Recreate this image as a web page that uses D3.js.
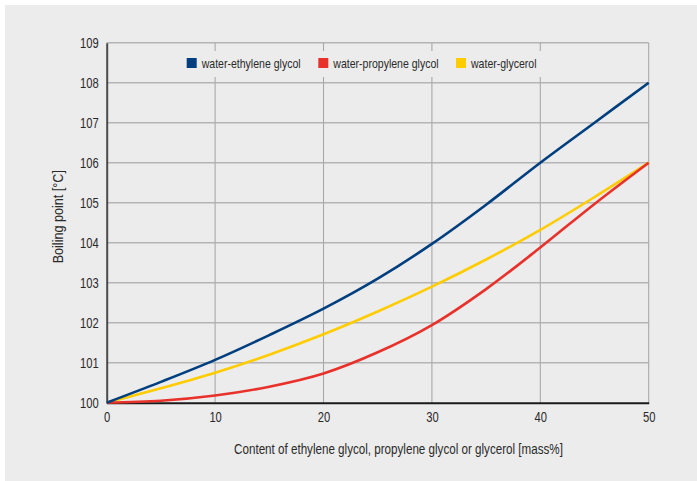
<!DOCTYPE html>
<html>
<head>
<meta charset="utf-8">
<script src="https://cdn.jsdelivr.net/npm/d3@7"></script>
<style>
  html, body { margin: 0; padding: 0; background: #ffffff; }
  svg { display: block; }
  text { font-family: "Liberation Sans", Arial, sans-serif; fill: #2a2a2a; }
</style>
</head>
<body>
<svg id="chart" width="697" height="481"></svg>
<script>
// ---- data ----
const contents = [0, 5, 10, 15, 20, 25, 30, 35, 40, 45, 50];
const ethyleneGlycol = [100, 100.52, 101.07, 101.69, 102.35, 103.1, 103.97, 104.95, 106.0, 107.0, 108.0];
const propyleneGlycol = [100, 100.05, 100.18, 100.4, 100.73, 101.26, 101.94, 102.84, 103.88, 104.97, 106.0];
const glycerol = [100, 100.36, 100.75, 101.2, 101.71, 102.28, 102.9, 103.58, 104.32, 105.14, 106.0];
const seriesNames = ["water-ethylene glycol", "water-propylene glycol", "water-glycerol"];
const seriesColors = ["#003f7f", "#e8312a", "#ffcc00"];
const xTicks = [0, 10, 20, 30, 40, 50];
const yTicks = [100, 101, 102, 103, 104, 105, 106, 107, 108, 109];
const xTitle = "Content of ethylene glycol, propylene glycol or glycerol [mass%]";
const yTitle = "Boiling point [°C]";

const svg = d3.select("#chart");
const W = 697, H = 481;
const plot = { left: 106.7, right: 648.7, top: 42.7, bottom: 402.7 };

// condense a text node to a fraction of its natural width (narrow typeface look)
function condense(sel, factor) {
  sel.each(function () {
    const w = this.getComputedTextLength();
    if (w > 0) {
      this.setAttribute("textLength", (w * factor).toFixed(2));
      this.setAttribute("lengthAdjust", "spacingAndGlyphs");
    }
  });
}

// background panel
svg.append("rect").attr("x", 5).attr("y", 5).attr("width", W - 5).attr("height", H - 5).attr("fill", "#ececec");

const x = d3.scaleLinear().domain([0, 50]).range([plot.left, plot.right]);
const y = d3.scaleLinear().domain([100, 109]).range([plot.bottom, plot.top]);

// horizontal gridlines
svg.append("g")
  .selectAll("line").data(yTicks.filter(d => d > 100)).join("line")
  .attr("x1", plot.left).attr("x2", plot.right)
  .attr("y1", d => y(d)).attr("y2", d => y(d))
  .attr("stroke", "#b4b4b4").attr("stroke-width", 1.4);

// vertical gridlines
svg.append("g")
  .selectAll("line").data(xTicks.filter(d => d > 0)).join("line")
  .attr("x1", d => x(d)).attr("x2", d => x(d))
  .attr("y1", plot.top).attr("y2", plot.bottom)
  .attr("stroke", "#a9a9a9").attr("stroke-width", 1.1);

// legend background
svg.append("rect").attr("x", 178).attr("y", 51).attr("width", 368).attr("height", 26).attr("fill", "#ececec");

// axes
const yAxis = d3.axisLeft(y).tickValues(yTicks).tickSize(0).tickPadding(8).tickFormat(d3.format("d"));
const gy = svg.append("g").attr("transform", `translate(${plot.left},0)`).call(yAxis);
gy.attr("font-family", null).attr("font-size", null);
gy.select(".domain").attr("stroke", "#4a4a4a").attr("stroke-width", 2);
gy.selectAll("text").style("font-size", "14px").attr("fill", "#2a2a2a").call(condense, 0.8);

const xAxis = d3.axisBottom(x).tickValues(xTicks).tickSize(0).tickPadding(9).tickFormat(d3.format("d"));
const gx = svg.append("g").attr("transform", `translate(0,${plot.bottom})`).call(xAxis);
gx.attr("font-family", null).attr("font-size", null);
gx.select(".domain").attr("stroke", "#1a1a1a").attr("stroke-width", 2);
gx.selectAll("text").style("font-size", "14px").attr("fill", "#2a2a2a").call(condense, 0.8);

// lines
const allSeries = [ethyleneGlycol, propyleneGlycol, glycerol];
const line = d3.line().x((d, i) => x(contents[i])).y(d => y(d)).curve(d3.curveCatmullRom.alpha(0.5));
// draw order: yellow, red, blue
[2, 1, 0].forEach(k => {
  svg.append("path").datum(allSeries[k])
    .attr("d", line).attr("fill", "none")
    .attr("stroke", seriesColors[k]).attr("stroke-width", 2.6)
    .attr("stroke-linejoin", "round");
});

// legend
const legendX = [186.7, 318.3, 456];
seriesNames.forEach((name, i) => {
  svg.append("rect").attr("x", legendX[i]).attr("y", 58).attr("width", 10).attr("height", 10).attr("fill", seriesColors[i]);
  svg.append("text").attr("x", legendX[i] + 15).attr("y", 67.8).style("font-size", "13.5px").text(name).call(condense, 0.78);
});

// axis titles
svg.append("text").attr("x", 398.5).attr("y", 454).attr("text-anchor", "middle").style("font-size", "14px").text(xTitle).call(condense, 0.83);
svg.append("text").attr("transform", "translate(63,216.7) rotate(-90)").attr("text-anchor", "middle").style("font-size", "14px").text(yTitle).call(condense, 0.9);
</script>
</body>
</html>
